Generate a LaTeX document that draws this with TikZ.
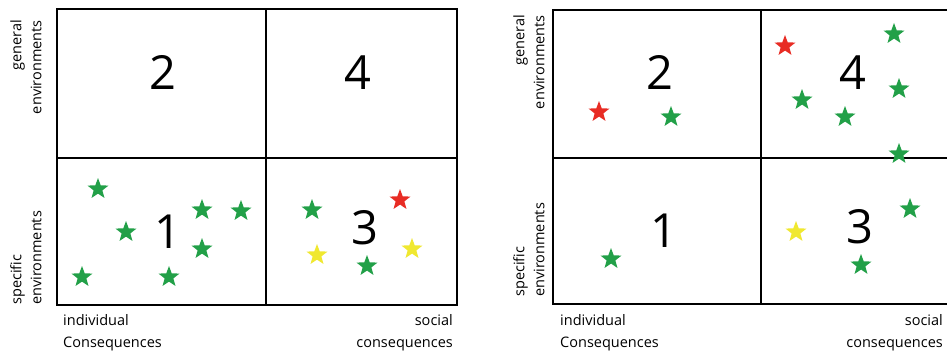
\documentclass[tikz,border=0pt]{standalone}
\usepackage{fontspec}
\setmainfont{Open Sans}
\newfontfamily\numfont{Open Sans}
\usetikzlibrary{shapes.geometric}
\definecolor{stargreen}{RGB}{34,160,72}
\definecolor{starred}{RGB}{232,44,36}
\definecolor{staryellow}{RGB}{240,232,48}
\tikzset{
  grid/.style={line width=2.6pt, draw=black},
  divider/.style={line width=2.2pt, draw=black},
  gstar/.style={star, star points=5, star point ratio=2.4, fill=stargreen, inner sep=0pt, minimum size=22pt},
  rstar/.style={gstar, fill=starred},
  ystar/.style={gstar, fill=staryellow},
  quadnum/.style={font=\numfont\fontsize{47}{47}\selectfont, inner sep=0pt},
  axislabel/.style={font=\fontsize{14.5}{22}\selectfont, inner sep=0pt, align=left},
  sidelabel/.style={font=\fontsize{14.5}{20}\selectfont, inner sep=0pt, rotate=90},
}
\begin{document}
\begin{tikzpicture}[x=1pt, y=-1pt]
\useasboundingbox (0,0) rectangle (947,353);
\fill[white] (0,0) rectangle (947,353);

% ---------- left matrix ----------
\draw[grid] (57,9) rectangle (457,305);
\draw[divider] (266,9) -- (266,305);
\draw[divider] (57,158) -- (457,158);

\node[quadnum] (L2) at (163,72) {2};
\node[quadnum] (L4) at (358,73) {4};
\node[quadnum] (L1) at (168,232) {1};
\node[quadnum] (L3) at (365,228) {3};

\node[sidelabel, anchor=east, align=right] (Lgen) at (26,20) {general\\environments};
\node[sidelabel, anchor=west, align=left] (Lspec) at (26,305) {specific\\environments};

\node[axislabel, anchor=north west] (Lind) at (63,314) {individual\\Consequences};
\node[axislabel, anchor=north east, align=right] (Lsoc) at (453,314) {social\\consequences};

\node[gstar] (l1a) at (98,189) {};
\node[gstar] (l1b) at (126,232) {};
\node[gstar] (l1c) at (202,210) {};
\node[gstar] (l1d) at (241,211) {};
\node[gstar] (l1e) at (202,249) {};
\node[gstar] (l1f) at (82,277) {};
\node[gstar] (l1g) at (169,277) {};
\node[gstar] (l3a) at (312,210) {};
\node[rstar] (l3b) at (400,200) {};
\node[ystar] (l3c) at (317,255) {};
\node[ystar] (l3d) at (412,249) {};
\node[gstar] (l3e) at (367,266) {};

% ---------- right matrix ----------
\draw[grid] (553,10) rectangle (953,304);
\draw[divider] (761,10) -- (761,304);
\draw[divider] (553,158) -- (953,158);

\node[quadnum] (R2) at (660,72) {2};
\node[quadnum] (R4) at (853,73) {4};
\node[quadnum] (R1) at (664,231) {1};
\node[quadnum] (R3) at (860,227) {3};

\node[sidelabel, anchor=east, align=right] (Rgen) at (529,15) {general\\environments};
\node[sidelabel, anchor=west, align=left] (Rspec) at (529,297) {specific\\environments};

\node[axislabel, anchor=north west] (Rind) at (560,314) {individual\\Consequences};
\node[axislabel, anchor=north east, align=right] (Rsoc) at (943,314) {social\\consequences};

\node[rstar] (r2a) at (599,112) {};
\node[gstar] (r2b) at (671,117) {};
\node[rstar] (r4a) at (785,46) {};
\node[gstar] (r4b) at (894,34) {};
\node[gstar] (r4c) at (802,100) {};
\node[gstar] (r4d) at (845,117) {};
\node[gstar] (r4e) at (899,89) {};
\node[gstar] (r4f) at (899,154) {};
\node[gstar] (r3a) at (910,209) {};
\node[ystar] (r3b) at (796,232) {};
\node[gstar] (r3c) at (861,265) {};
\node[gstar] (r1a) at (611,259) {};
\end{tikzpicture}
\end{document}
